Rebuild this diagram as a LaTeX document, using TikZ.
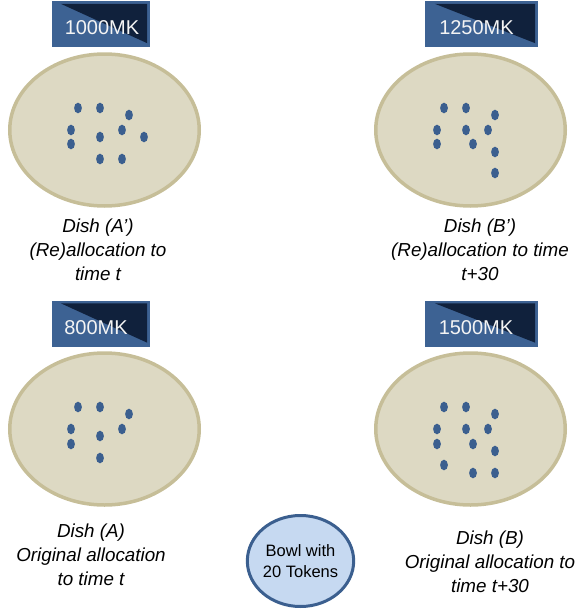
\documentclass[tikz,border=0pt]{standalone}
\usepackage{fontspec}
\setmainfont{Liberation Sans}
\usetikzlibrary{shapes.geometric,calc}
\definecolor{dishfill}{HTML}{DDD9C3}
\definecolor{dishdraw}{HTML}{C6BE98}
\definecolor{token}{HTML}{3B5F8F}
\definecolor{boxlight}{HTML}{3D6293}
\definecolor{boxdark}{HTML}{10213C}
\definecolor{bowlfill}{HTML}{C6D9F1}
\definecolor{bowldraw}{HTML}{3B5F8F}
\definecolor{mktext}{HTML}{F4F4F4}
\begin{document}
\begin{tikzpicture}[x=1pt,y=-1pt,
  dish/.style={ellipse, draw=dishdraw, fill=dishfill, line width=3.5pt,
    minimum width=189.5pt, minimum height=152pt, inner sep=0pt},
  mkbox/.style={rectangle, fill=boxlight, inner sep=0pt, minimum height=46pt},
  mktri/.style={fill=boxdark},
  mklabel/.style={text=mktext, font=\fontsize{20}{24}\selectfont, inner sep=0pt},
  tokendot/.style={fill=token},
  bowl/.style={ellipse, draw=bowldraw, fill=bowlfill, line width=3pt,
    minimum width=97pt, minimum height=91pt, inner sep=0pt, align=center,
    font=\fontsize{16.5}{21}\selectfont},
  dishlabel/.style={align=center, inner sep=0pt,
    font=\fontsize{18.8}{24}\selectfont\itshape}
]
\useasboundingbox (0,0) rectangle (577,613);

% dishes
\node[dish] (dA1) at (104.5,130) {};
\node[dish] (dB1) at (470.5,130) {};
\node[dish] (dA) at (104.5,429) {};
\node[dish] (dB) at (470.5,429) {};

% money boxes
\node[mkbox, minimum width=98pt] (bA1) at (101,24) {};
\node[mkbox, minimum width=113pt] (bB1) at (481.5,24) {};
\node[mkbox, minimum width=98pt] (bA) at (101,323.5) {};
\node[mkbox, minimum width=113pt] (bB) at (481.5,323.5) {};
\foreach \b/\o in {bA1/9,bB1/10,bA/9,bB/10}{
  \fill[mktri] ($(\b.north west)+(\o,3)$) -- ($(\b.north east)+(-3,3)$) -- ($(\b.south east)+(-3,-4)$) -- cycle;
}
\node[mklabel] (tA1) at (102,28) {1000MK};
\node[mklabel] (tB1) at (476.5,28) {1250MK};
\node[mklabel] (tA) at (96,328) {800MK};
\node[mklabel] (tB) at (476,328) {1500MK};

% tokens
\foreach \x/\y in {78/108,100/108,129/115,71/130,122/130,100/137,144/137,71/144,100/159,122/159}{
  \fill[tokendot] (\x,\y) ellipse [x radius=3.9pt, y radius=5.3pt];
}
\foreach \x/\y in {444/108,466/108,495/115,437/130,466/130,488/130,437/144,473/144,495/152,495/173}{
  \fill[tokendot] (\x,\y) ellipse [x radius=3.9pt, y radius=5.3pt];
}
\foreach \x/\y in {78/407,100/407,129/414,71/429,122/429,100/436,71/444,100/458}{
  \fill[tokendot] (\x,\y) ellipse [x radius=3.9pt, y radius=5.3pt];
}
\foreach \x/\y in {444/407,466/407,495/414,437/429,466/429,488/429,437/444,473/444,495/451,444/465,473/473,495/473}{
  \fill[tokendot] (\x,\y) ellipse [x radius=3.9pt, y radius=5.3pt];
}

% labels
\node[dishlabel] (lA1) at (98,250) {Dish (A’)\\(Re)allocation to\\time t};
\node[dishlabel] (lB1) at (480,250) {Dish (B’)\\(Re)allocation to time\\t+30};
\node[dishlabel] (lA) at (91,555) {Dish (A)\\Original allocation\\to time t};
\node[dishlabel] (lB) at (490,562) {Dish (B)\\Original allocation to\\time t+30};

% bowl
\node[bowl] (bowl) at (300.5,561) {Bowl with\\20 Tokens};
\end{tikzpicture}
\end{document}
